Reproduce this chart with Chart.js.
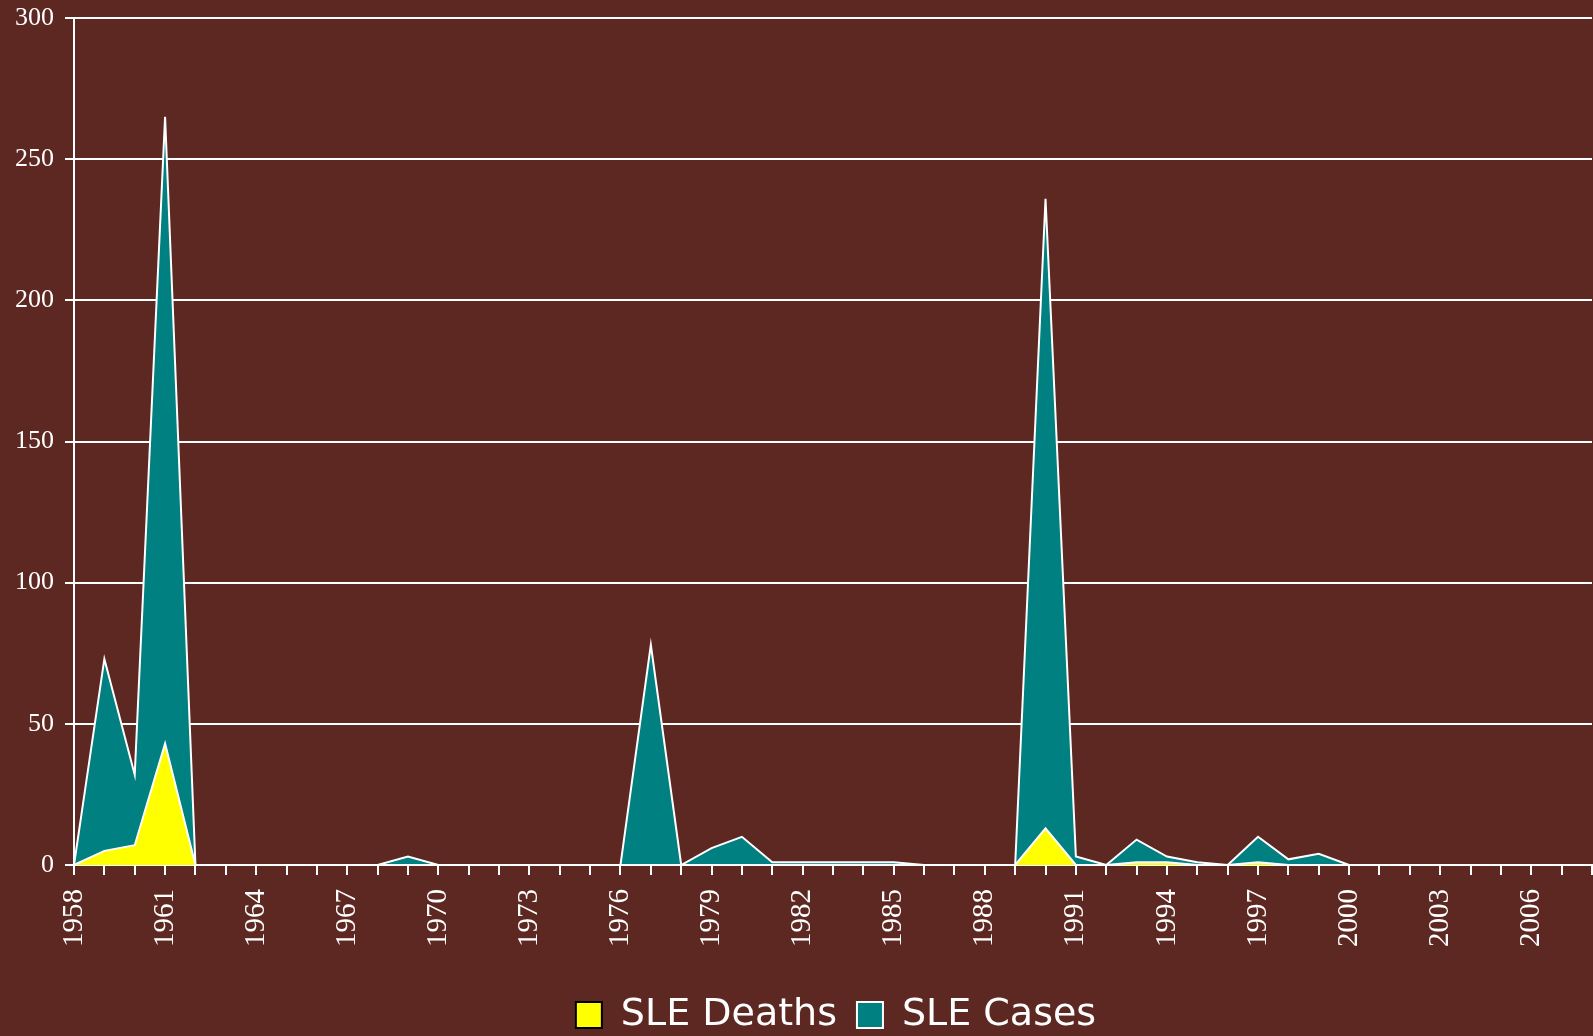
<!DOCTYPE html>
<html>
<head>
<meta charset="utf-8">
<script src="https://cdn.jsdelivr.net/npm/chart.js@4"></script>
<style>
  html, body { margin: 0; padding: 0; background: #5c2821; }
  #wrap { width: 1593px; height: 1036px; }
</style>
</head>
<body>
<div id="wrap"><canvas id="areaChart"></canvas></div>
<script>
var years = [];
for (var y = 1958; y <= 2008; y++) years.push(String(y));

// SLE deaths per year, 1958-2008
var deaths = [0, 5, 7, 43, 0, 0, 0, 0, 0, 0,
              0, 0, 0, 0, 0, 0, 0, 0, 0, 0,
              0, 0, 0, 0, 0, 0, 0, 0, 0, 0,
              0, 0, 13, 0, 0, 1, 1, 0, 0, 1,
              0, 0, 0, 0, 0, 0, 0, 0, 0, 0,
              0];

// SLE cases per year, 1958-2008
var cases = [0, 73, 32, 265, 0, 0, 0, 0, 0, 0,
             0, 3, 0, 0, 0, 0, 0, 0, 0, 78,
             0, 6, 10, 1, 1, 1, 1, 1, 0, 0,
             0, 0, 236, 3, 0, 9, 3, 1, 0, 10,
             2, 4, 0, 0, 0, 0, 0, 0, 0, 0,
             0];

var yTicks = [0, 50, 100, 150, 200, 250, 300];

var serif = '"Liberation Serif", "Times New Roman", serif';

// legend sits a bit right of centre in the original
var shiftLegend = {
  id: 'shiftLegend',
  afterLayout: function (chart) {
    chart.legend.left += 38;
    chart.legend.right += 38;
  }
};

var ctx = document.getElementById('areaChart').getContext('2d');
var myAreaChart = new Chart(ctx, {
  type: 'line',
  data: {
    labels: years,
    datasets: [
      {
        label: 'SLE Deaths',
        data: deaths,
        backgroundColor: '#ffff00',
        borderColor: '#ffffff',
        borderWidth: 2,
        fill: 'origin',
        tension: 0
      },
      {
        label: 'SLE Cases',
        data: cases,
        backgroundColor: '#008080',
        borderColor: '#ffffff',
        borderWidth: 2,
        fill: 'origin',
        tension: 0
      }
    ]
  },
  plugins: [shiftLegend],
  options: {
    responsive: true,
    maintainAspectRatio: false,
    animation: false,
    layout: {
      padding: { left: 4, right: 1, top: 18, bottom: -8 }
    },
    scales: {
      x: {
        offset: false,
        border: { color: '#ffffff', width: 2 },
        grid: {
          drawOnChartArea: false,
          drawTicks: true,
          tickLength: 10,
          color: '#ffffff',
          lineWidth: 2
        },
        ticks: {
          autoSkip: false,
          maxRotation: 90,
          minRotation: 90,
          padding: 14,
          color: '#ffffff',
          font: { family: serif, size: 29 },
          callback: function (val, i) {
            return i % 3 === 0 ? years[i] : '';
          }
        },
        afterFit: function (scale) {
          scale.height = 111;
          scale.paddingRight = 0;
        }
      },
      y: {
        min: 0,
        max: 300,
        afterBuildTicks: function (axis) {
          axis.ticks = yTicks.map(function (v) { return { value: v }; });
        },
        border: { color: '#ffffff', width: 2 },
        grid: {
          color: '#ffffff',
          lineWidth: 2,
          tickLength: 9
        },
        ticks: {
          padding: 11,
          color: '#ffffff',
          font: { family: serif, size: 26 }
        },
        afterFit: function (scale) {
          scale.paddingTop = 0;
          scale.paddingBottom = 0;
        }
      }
    },
    plugins: {
      legend: {
        position: 'bottom',
        labels: {
          boxWidth: 26,
          boxHeight: 26,
          padding: 20,
          color: '#ffffff',
          font: { family: '"DejaVu Sans", sans-serif', size: 38 },
          generateLabels: function (chart) {
            return chart.data.datasets.map(function (ds, i) {
              return {
                text: ds.label,
                fillStyle: ds.backgroundColor,
                strokeStyle: i === 0 ? '#000000' : '#ffffff',
                lineWidth: 2,
                fontColor: '#ffffff',
                datasetIndex: i
              };
            });
          }
        }
      },
      tooltip: { enabled: false }
    },
    elements: {
      point: { radius: 0 }
    }
  }
});
</script>
</body>
</html>
